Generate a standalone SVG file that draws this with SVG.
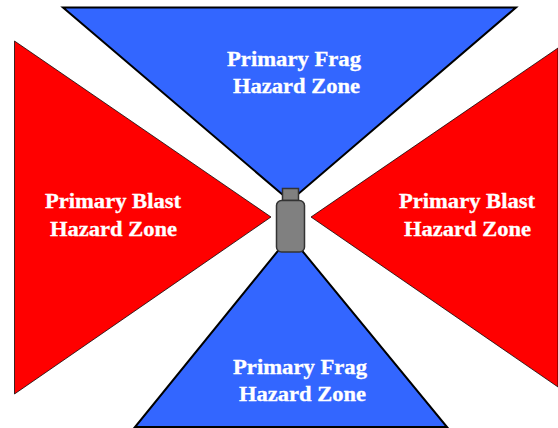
<svg xmlns="http://www.w3.org/2000/svg" width="558" height="428" viewBox="0 0 558 428">
<style>
.frag{fill:#3366ff;stroke:#000;stroke-width:2}
.blast{fill:#ff0000;stroke:#000;stroke-width:.75}
.dev{fill:#808080;stroke:#333;stroke-width:1.5}
text{font-family:"Liberation Serif","Times New Roman",serif;font-size:20px;font-weight:bold;fill:#fff;stroke:#fff;stroke-width:.3}
</style>
<rect width="558" height="428" fill="#fff"/>
<g id="frag-top"><polygon class="frag" points="63,7.500 516,7.500 290,201"/><text x="227" y="66" textLength="134" lengthAdjust="spacingAndGlyphs">Primary Frag</text><text x="233" y="93" textLength="127" lengthAdjust="spacingAndGlyphs">Hazard Zone</text></g>
<g id="blast-left"><polygon class="blast" points="14.500,41 271,217 14.500,394"/><text x="45" y="208" textLength="136" lengthAdjust="spacingAndGlyphs">Primary Blast</text><text x="50" y="236" textLength="127" lengthAdjust="spacingAndGlyphs">Hazard Zone</text></g>
<g id="blast-right"><polygon class="blast" points="558,48 311,217 558,387"/><text x="399" y="208" textLength="136" lengthAdjust="spacingAndGlyphs">Primary Blast</text><text x="404" y="236" textLength="127" lengthAdjust="spacingAndGlyphs">Hazard Zone</text></g>
<g id="frag-bottom"><polygon class="frag" points="290,236 447,427 135,427"/><text x="233" y="374" textLength="134" lengthAdjust="spacingAndGlyphs">Primary Frag</text><text x="239" y="401" textLength="127" lengthAdjust="spacingAndGlyphs">Hazard Zone</text></g>
<g id="device"><rect class="dev" x="282.500" y="188.500" width="16" height="12"/><rect class="dev" x="276.500" y="200.500" width="28" height="51.500" rx="5"/></g>
</svg>
